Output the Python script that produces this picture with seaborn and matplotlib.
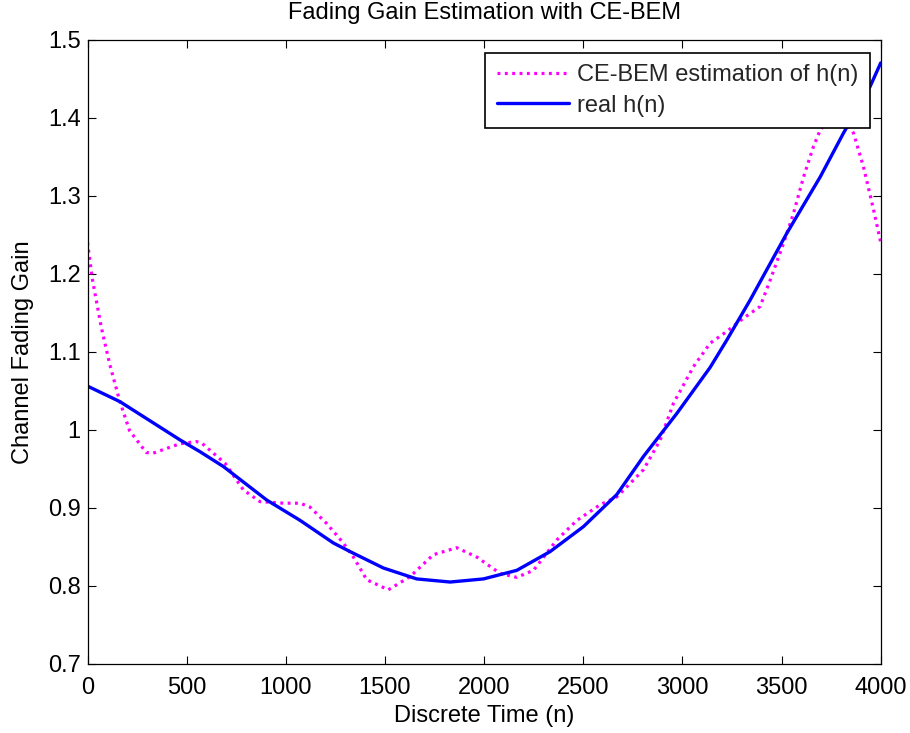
import matplotlib
matplotlib.use("Agg")
import matplotlib.pyplot as plt
import seaborn as sns
import pandas as pd

# ---- data ----
est_n = [0, 25, 69, 111, 161, 212, 296, 330, 464, 548, 576, 694, 786, 870, 988,
         1072, 1122, 1206, 1290, 1341, 1408, 1517, 1627, 1744, 1862, 1963, 2081,
         2165, 2249, 2367, 2468, 2585, 2669, 2720, 2804, 2888, 2955, 3056, 3140,
         3224, 3308, 3392, 3443, 3510, 3560, 3611, 3661, 3695, 3780, 3863, 3913,
         3964, 4000]
est_h = [1.240, 1.192, 1.132, 1.085, 1.038, 0.999, 0.971, 0.970, 0.982, 0.985,
         0.983, 0.957, 0.923, 0.908, 0.906, 0.906, 0.901, 0.880, 0.855, 0.837,
         0.808, 0.795, 0.812, 0.840, 0.849, 0.837, 0.816, 0.811, 0.820, 0.859,
         0.884, 0.904, 0.914, 0.927, 0.949, 0.987, 1.034, 1.081, 1.111, 1.126,
         1.143, 1.158, 1.192, 1.239, 1.277, 1.324, 1.363, 1.384, 1.410, 1.380,
         1.337, 1.282, 1.240]

real_n = [0, 164, 467, 567, 685, 904, 1072, 1240, 1324, 1492, 1576, 1660, 1829,
          1997, 2165, 2333, 2501, 2669, 2804, 2972, 3140, 3224, 3341, 3527, 3695,
          3812, 3947, 4000]
real_h = [1.056, 1.036, 0.987, 0.972, 0.953, 0.910, 0.884, 0.855, 0.844, 0.823,
          0.816, 0.809, 0.805, 0.809, 0.820, 0.844, 0.876, 0.917, 0.966, 1.021,
          1.080, 1.115, 1.166, 1.252, 1.324, 1.380, 1.440, 1.470]

x_ticks = [0, 500, 1000, 1500, 2000, 2500, 3000, 3500, 4000]
y_ticks = [0.7, 0.8, 0.9, 1.0, 1.1, 1.2, 1.3, 1.4, 1.5]
y_tick_labels = ["0.7", "0.8", "0.9", "1", "1.1", "1.2", "1.3", "1.4", "1.5"]

labels = ["CE-BEM estimation of h(n)", "real h(n)"]
colors = ["#FF00FF", "#0000FF"]

sns.set_style("white")
plt.rcParams["font.family"] = ["Liberation Sans", "DejaVu Sans"]
FS = 17

fig = plt.figure(figsize=(9.10, 7.33), dpi=100)
ax = fig.add_axes([87.5 / 910, 69 / 733, (880.7 - 87.5) / 910, (664 - 39.5) / 733])

df_est = pd.DataFrame({"n": est_n, "h": est_h})
df_real = pd.DataFrame({"n": real_n, "h": real_h})

sns.lineplot(data=df_est, x="n", y="h", ax=ax, color=colors[0], linewidth=2.3,
             label=labels[0], sort=False)
sns.lineplot(data=df_real, x="n", y="h", ax=ax, color=colors[1], linewidth=2.4,
             label=labels[1], sort=False)
ax.lines[0].set_linestyle((0, (0.9, 1.4)))

ax.set_xlim(0, 4000)
ax.set_ylim(0.7, 1.5)
ax.set_xticks(x_ticks)
ax.set_xticklabels([str(t) for t in x_ticks])
ax.set_yticks(y_ticks)
ax.set_yticklabels(y_tick_labels)

ax.tick_params(direction="in", length=5.5, width=0.8, color="black",
               top=True, right=True, bottom=True, left=True, labelsize=FS,
               labelcolor="black")
ax.tick_params(axis="y", pad=5)
ax.tick_params(axis="x", pad=9.5)
for s in ax.spines.values():
    s.set_visible(True)
    s.set_color("black")
    s.set_linewidth(0.9)

ax.set_xlabel("Discrete Time (n)", fontsize=FS, color="black", labelpad=4.4)
ax.set_ylabel("Channel Fading Gain", fontsize=FS, color="black", labelpad=10)
ax.set_title("Fading Gain Estimation with CE-BEM", fontsize=FS, color="black", pad=14.5)

leg = ax.legend(loc="upper right", bbox_to_anchor=(0.9865, 0.979), fontsize=FS,
                frameon=True, fancybox=False, shadow=False, framealpha=1,
                edgecolor="black", handlelength=3.05, borderpad=0.5,
                labelspacing=0.35, handletextpad=0.35, borderaxespad=0)
leg.get_frame().set_linewidth(1.2)

fig.savefig("out.png", dpi=100, facecolor="white")
